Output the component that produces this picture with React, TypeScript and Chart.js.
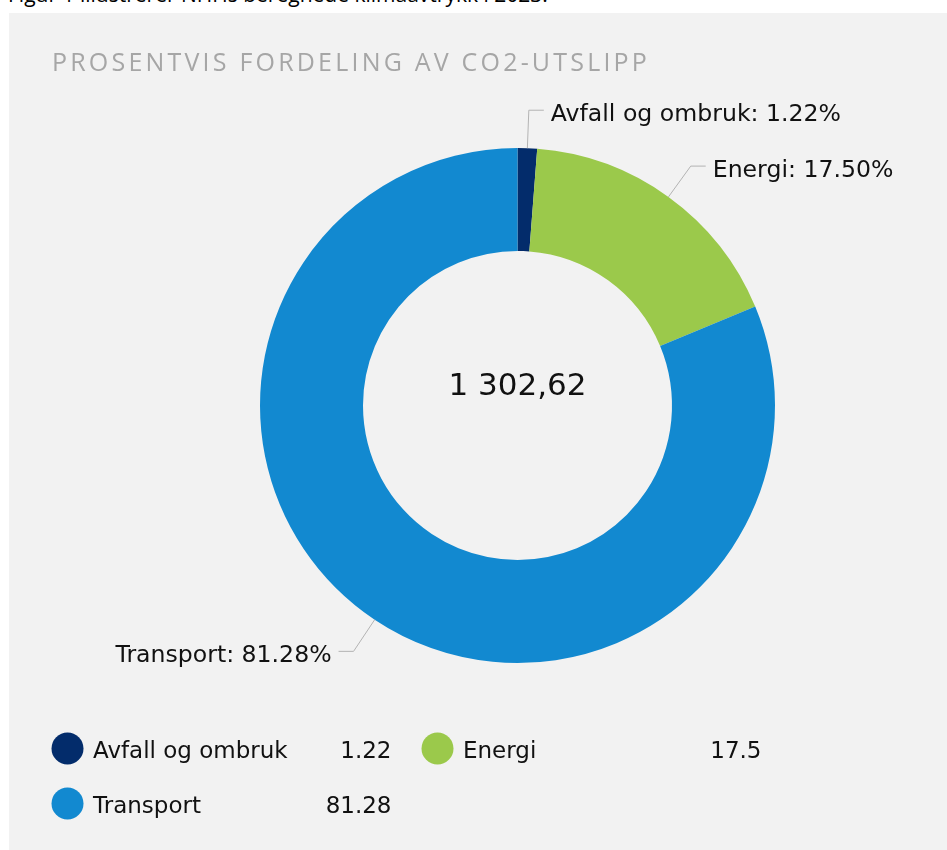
import React, { useEffect, useRef } from "react";
import { Chart, registerables } from "chart.js";

Chart.register(...registerables);

const chartTitle = "PROSENTVIS FORDELING AV CO2-UTSLIPP";
const introText = "Figur 1 illustrerer NHHs beregnede klimaavtrykk i 2023.";
const categories = ["Avfall og ombruk", "Energi", "Transport"];
const values = [1.22, 17.5, 81.28];
const colors = ["#032c6b", "#9bc94b", "#1289d0"];
const totalEmission = 1302.62;

const PANEL_W = 938;
const PANEL_H = 837;
const FONT = '"DejaVu Sans", Verdana, sans-serif';

function formatNo(v: number): string {
  const [intPart, dec] = v.toFixed(2).split(".");
  const grouped = intPart.replace(/\B(?=(\d{3})+(?!\d))/g, " ");
  return grouped + "," + dec;
}

const overlayPlugin = {
  id: "overlay",
  afterDraw(chart: any) {
    const ctx: CanvasRenderingContext2D = chart.ctx;
    const meta = chart.getDatasetMeta(0);
    const data: number[] = chart.data.datasets[0].data;
    const total = data.reduce((a, b) => a + b, 0);

    ctx.save();
    // title
    ctx.fillStyle = "#a6a6a6";
    ctx.font = '25px "Open Sans", sans-serif';
    (ctx as any).letterSpacing = "3.2px";
    ctx.textAlign = "left";
    ctx.textBaseline = "alphabetic";
    ctx.fillText(chartTitle, 43, 58);
    (ctx as any).letterSpacing = "0px";

    // labels with leader lines
    meta.data.forEach((arc: any, i: number) => {
      const p = arc.getProps(["x", "y", "startAngle", "endAngle", "outerRadius"], true);
      const mid = (p.startAngle + p.endAngle) / 2;
      const cos = Math.cos(mid);
      const sin = Math.sin(mid);
      const x0 = p.x + p.outerRadius * cos;
      const y0 = p.y + p.outerRadius * sin;
      const x1 = p.x + (p.outerRadius + 38) * cos;
      const y1 = p.y + (p.outerRadius + 38) * sin;
      const side = cos >= 0 ? 1 : -1;
      const x2 = x1 + side * 15;
      ctx.strokeStyle = "#b3b3b3";
      ctx.lineWidth = 1;
      ctx.beginPath();
      ctx.moveTo(x0, y0);
      ctx.lineTo(x1, y1);
      ctx.lineTo(x2, y1);
      ctx.stroke();
      ctx.fillStyle = "#111";
      ctx.font = "23.6px " + FONT;
      ctx.textAlign = side > 0 ? "left" : "right";
      ctx.textBaseline = "alphabetic";
      const pct = ((data[i] / total) * 100).toFixed(2);
      ctx.fillText(chart.data.labels[i] + ": " + pct + "%", x2 + side * 7, y1 + 11);
    });

    // center text
    const a0 = meta.data[0];
    ctx.fillStyle = "#111";
    ctx.font = "31px " + FONT;
    ctx.textAlign = "center";
    ctx.fillText(formatNo(totalEmission), a0.x, a0.y - 10.5);

    // legend
    const colW = 370;
    const rowH = 55;
    const lx = 58.5;
    const ly = 735.5;
    data.forEach((v, i) => {
      const col = i % 2;
      const row = Math.floor(i / 2);
      const cx = lx + col * colW;
      const cy = ly + row * rowH;
      ctx.fillStyle = chart.data.datasets[0].backgroundColor[i];
      ctx.beginPath();
      ctx.arc(cx, cy, 16, 0, Math.PI * 2);
      ctx.fill();
      ctx.fillStyle = "#111";
      ctx.font = "23px " + FONT;
      ctx.textAlign = "left";
      ctx.fillText(chart.data.labels[i], cx + 25.5, cy + 9);
      ctx.textAlign = "right";
      ctx.fillText(String(v), cx + 324, cy + 9);
    });
    ctx.restore();
  },
};

export default function App() {
  const ref = useRef<HTMLCanvasElement | null>(null);
  useEffect(() => {
    if (!ref.current) return;
    const chart = new Chart(ref.current, {
      type: "doughnut",
      data: {
        labels: categories,
        datasets: [
          {
            data: values,
            backgroundColor: colors,
            borderWidth: 0,
            hoverOffset: 0,
            offset: 0,
          },
        ],
      },
      options: {
        responsive: false,
        animation: false,
        cutout: "60%",
        layout: { padding: { left: 251, top: 135, right: 172, bottom: 187 } },
        plugins: {
          legend: { display: false },
          tooltip: { enabled: false },
          title: { display: false },
        },
        events: [],
      },
      plugins: [overlayPlugin],
    });
    return () => chart.destroy();
  }, []);

  return (
    <div style={{ position: "absolute", left: 0, top: 0, width: 947, height: 850, overflow: "hidden", background: "#fff" }}>
      <div
        style={{
          position: "absolute",
          left: 8,
          top: -18,
          fontFamily: '"Open Sans", sans-serif',
          fontSize: 21,
          lineHeight: "24px",
          color: "#000",
          whiteSpace: "nowrap",
        }}
      >
        {introText}
      </div>
      <div style={{ position: "absolute", left: 9, top: 13, width: PANEL_W, height: PANEL_H, background: "#f2f2f2" }}>
        <canvas ref={ref} width={PANEL_W} height={PANEL_H} style={{ display: "block" }} />
      </div>
    </div>
  );
}
